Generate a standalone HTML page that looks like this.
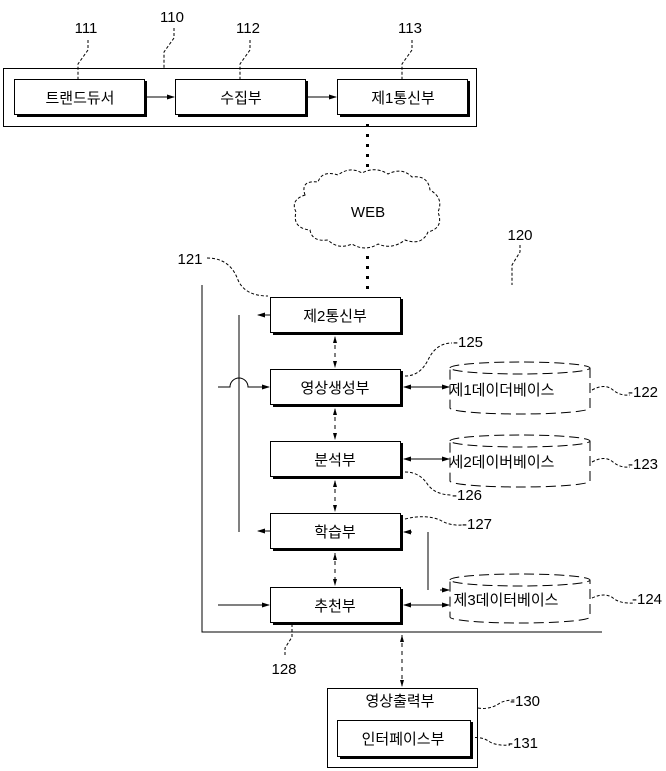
<!DOCTYPE html>
<html><head><meta charset="utf-8"><style>
html,body{margin:0;padding:0;background:#fff}
svg{display:block}
text{font-family:"Liberation Sans","Noto Sans CJK KR","NanumGothic",sans-serif;fill:#000}
</style></head><body>
<svg width="666" height="771" viewBox="0 0 666 771" xmlns="http://www.w3.org/2000/svg">
<defs>
<marker id="a" markerWidth="8" markerHeight="6" refX="7" refY="3" orient="auto" markerUnits="userSpaceOnUse"><path d="M0,0.5 L8,3 L0,5.5z" fill="#000"/></marker>
</defs>
<g stroke="#000" fill="none" stroke-width="1">
<!-- top frame -->
<rect x="3.5" y="68.5" width="473" height="58"/>
<!-- boxes top -->
<rect x="14.5" y="79.5" width="130" height="35" fill="#fff"/>
<rect x="175.5" y="79.5" width="130" height="35" fill="#fff"/>
<rect x="337.5" y="79.5" width="130" height="35" fill="#fff"/>
</g>
<g fill="#000">
<rect x="144" y="81" width="3" height="36"/><rect x="17" y="114" width="130" height="3"/>
<rect x="305" y="81" width="3" height="36"/><rect x="178" y="114" width="130" height="3"/>
<rect x="467" y="81" width="3" height="36"/><rect x="340" y="114" width="130" height="3"/>
</g>
<g stroke="#000" fill="none">
<line x1="147" y1="97" x2="174" y2="97" marker-end="url(#a)"/>
<line x1="308" y1="97" x2="336" y2="97" marker-end="url(#a)"/>
<path d="M88,40 V50 L78,64 V79" stroke-dasharray="3,2"/>
<path d="M174,28 V38 L164,52 V68" stroke-dasharray="3,2"/>
<path d="M250,40 V50 L240,64 V79" stroke-dasharray="3,2"/>
<path d="M412,40 V50 L402,64 V79" stroke-dasharray="3,2"/>
</g>
<text x="86" y="33" font-size="15" text-anchor="middle">111</text>
<text x="172" y="22" font-size="15" text-anchor="middle">110</text>
<text x="248" y="33" font-size="15" text-anchor="middle">112</text>
<text x="410" y="33" font-size="15" text-anchor="middle">113</text>
<text x="80" y="103" font-size="15" text-anchor="middle">트랜드듀서</text>
<text x="241" y="103" font-size="15" text-anchor="middle">수집부</text>
<text x="403" y="103" font-size="15" text-anchor="middle">제1통신부</text>
<!-- dots -->
<g fill="#000">
<rect x="366" y="124" width="3" height="3"/><rect x="366" y="134" width="3" height="3"/><rect x="366" y="144" width="3" height="3"/><rect x="366" y="154" width="3" height="3"/><rect x="366" y="164" width="3" height="3"/>
<rect x="366" y="256" width="3" height="3"/><rect x="366" y="266" width="3" height="3"/><rect x="366" y="276" width="3" height="3"/><rect x="366" y="286" width="3" height="3"/>
</g>
<!-- cloud -->
<path d="M305,195 Q300,180 318,182 Q322,170 338,175 Q350,166 362,173 Q375,166 388,174 Q402,167 412,177 Q428,175 430,190 Q444,198 438,212 Q444,228 428,232 Q422,246 405,240 Q392,250 378,244 Q365,252 352,244 Q338,250 328,240 Q312,242 310,230 Q292,228 296,212 Q290,200 305,195z" fill="none" stroke="#000" stroke-dasharray="3,2"/>
<text x="368" y="217" font-size="15" text-anchor="middle">WEB</text>
<!-- 120 frame -->
<g stroke="#000" fill="none">
<polyline points="202,285 202,632 602,632"/>
<line x1="239" y1="315" x2="239" y2="532"/>
<path d="M520,245 V252 L512,265 V285" stroke-dasharray="3,2"/>
<path d="M207,258 Q230,258 238,280 Q245,296 268,296" stroke-dasharray="3,2"/>
<rect x="270.5" y="297.5" width="130" height="35" fill="#fff"/>
<rect x="270.5" y="369.5" width="130" height="35" fill="#fff"/>
<rect x="270.5" y="441.5" width="130" height="35" fill="#fff"/>
<rect x="270.5" y="513.5" width="130" height="35" fill="#fff"/>
<rect x="270.5" y="587.5" width="130" height="35" fill="#fff"/>
</g>
<g fill="#000">
<rect x="400" y="299" width="3" height="36"/><rect x="273" y="332" width="130" height="3"/>
<rect x="400" y="371" width="3" height="36"/><rect x="273" y="404" width="130" height="3"/>
<rect x="400" y="443" width="3" height="36"/><rect x="273" y="476" width="130" height="3"/>
<rect x="400" y="515" width="3" height="36"/><rect x="273" y="548" width="130" height="3"/>
<rect x="400" y="589" width="3" height="36"/><rect x="273" y="622" width="130" height="3"/>
</g>
<text x="335" y="321" font-size="15" text-anchor="middle">제2통신부</text>
<text x="335" y="393" font-size="15" text-anchor="middle">영상생성부</text>
<text x="335" y="465" font-size="15" text-anchor="middle">분석부</text>
<text x="335" y="537" font-size="15" text-anchor="middle">학습부</text>
<text x="335" y="611" font-size="15" text-anchor="middle">추천부</text>
<!-- vertical dashed bidirectional arrows -->
<g stroke="#000" fill="none" stroke-dasharray="4,4">
<line x1="335" y1="337" x2="335" y2="367"/>
<line x1="335" y1="409" x2="335" y2="439"/>
<line x1="335" y1="481" x2="335" y2="511"/>
<line x1="335" y1="553" x2="335" y2="585"/>
<line x1="402" y1="635" x2="402" y2="686"/>
</g>
<g fill="#000">
<path d="M333,343 h4 l-2,-7z"/><path d="M333,361 h4 l-2,7z"/>
<path d="M333,415 h4 l-2,-7z"/><path d="M333,433 h4 l-2,7z"/>
<path d="M333,487 h4 l-2,-7z"/><path d="M333,505 h4 l-2,7z"/>
<path d="M333,560 h4 l-2,-7z"/><path d="M333,579 h4 l-2,7z"/>
<path d="M400,642 h4 l-2,-7z"/><path d="M400,680 h4 l-2,7z"/>
</g>
<g stroke="#000" fill="none">
<line x1="270" y1="315" x2="258" y2="315" marker-end="url(#a)"/>
<path d="M218,387 H230 A9,9 0 0 1 248,387 H269" marker-end="url(#a)"/>
<line x1="270" y1="531" x2="258" y2="531" marker-end="url(#a)"/>
<line x1="218" y1="605" x2="269" y2="605" marker-end="url(#a)"/>
<line x1="425" y1="387" x2="404" y2="387" marker-end="url(#a)"/>
<line x1="425" y1="387" x2="449" y2="387" marker-end="url(#a)"/>
<line x1="425" y1="459" x2="404" y2="459" marker-end="url(#a)"/>
<line x1="425" y1="459" x2="449" y2="459" marker-end="url(#a)"/>
<line x1="425" y1="605" x2="404" y2="605" marker-end="url(#a)"/>
<line x1="425" y1="605" x2="449" y2="605" marker-end="url(#a)"/>
<line x1="428" y1="532" x2="410" y2="532" stroke="none"/>
<line x1="412" y1="532" x2="404" y2="532" marker-end="url(#a)"/>
<line x1="428" y1="532" x2="428" y2="590"/>
<line x1="440" y1="590" x2="449" y2="590" marker-end="url(#a)"/>
<!-- cylinders -->
<g stroke-dasharray="10,5">
<path d="M450,368 A70,6 0 0 1 590,368 A70,6 0 0 1 450,368 V408 A70,6 0 0 0 590,408 V368"/>
<path d="M450,441 A70,6 0 0 1 590,441 A70,6 0 0 1 450,441 V481 A70,6 0 0 0 590,481 V441"/>
<path d="M450,580 A70,6 0 0 1 590,580 A70,6 0 0 1 450,580 V617 A70,6 0 0 0 590,617 V580"/>
</g>
<!-- leader lines -->
<g stroke-dasharray="3,2">
<path d="M405,376 Q420,376 428,360 Q436,343 452,343"/>
<path d="M592,390 Q605,383 613,390 Q620,396 630,395"/>
<path d="M592,462 Q605,455 613,462 Q620,468 630,467"/>
<path d="M405,472 Q420,472 428,485 Q436,495 452,495"/>
<path d="M405,519 Q425,514 440,520 Q450,526 462,525"/>
<path d="M592,598 Q605,592 613,598 Q620,604 635,603"/>
<path d="M292,624 V637 L285,648 V655"/>
<path d="M478,708 Q490,710 500,703 Q505,700 515,700"/>
<path d="M470,738 Q482,736 490,742 Q497,746 510,745"/>
</g>
<rect x="327.5" y="688.5" width="150" height="79"/>
<rect x="337.5" y="720.5" width="133" height="36" fill="#fff"/>
</g>
<g fill="#000"><rect x="470" y="722" width="3" height="37"/><rect x="340" y="756" width="133" height="3"/></g>
<text x="502" y="395" font-size="15" text-anchor="middle">제1데이더베이스</text>
<text x="502" y="467" font-size="15" text-anchor="middle">세2데이버베이스</text>
<text x="506" y="605" font-size="15" text-anchor="middle">제3데이터베이스</text>
<text x="400" y="706" font-size="15" text-anchor="middle">영상출력부</text>
<text x="403" y="744" font-size="15" text-anchor="middle">인터페이스부</text>
<g font-size="15">
<text x="520" y="240" text-anchor="middle">120</text>
<text x="190" y="264" text-anchor="middle">121</text>
<text x="453" y="347">-125</text>
<text x="628" y="397">-122</text>
<text x="628" y="469">-123</text>
<text x="452" y="500">-126</text>
<text x="462" y="529">-127</text>
<text x="632" y="604">-124</text>
<text x="284" y="674" text-anchor="middle">128</text>
<text x="510" y="706">-130</text>
<text x="508" y="748">-131</text>
</g>
</svg>
</body></html>
